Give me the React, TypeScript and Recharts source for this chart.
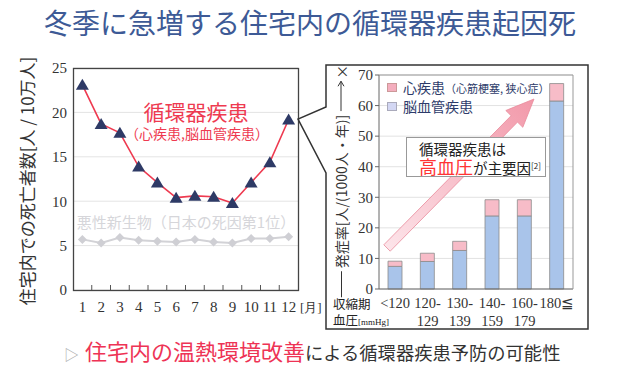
import React from 'react';
import { LineChart, Line, XAxis, YAxis, CartesianGrid, BarChart, Bar } from 'recharts';

// left chart: deaths at home per 100k people, by month
const months = [1, 2, 3, 4, 5, 6, 7, 8, 9, 10, 11, 12];
const circulatory = [23.1, 18.7, 17.7, 13.9, 12.1, 10.4, 10.6, 10.5, 9.8, 12.1, 14.4, 19.2];
const neoplasm = [5.7, 5.3, 5.9, 5.6, 5.5, 5.4, 5.7, 5.4, 5.3, 5.8, 5.8, 6.0];
const monthTicks = [1, 1.5, 2, 2.5, 3, 3.5, 4, 4.5, 5, 5.5, 6, 6.5, 7, 7.5, 8, 8.5, 9, 9.5, 10, 10.5, 11, 11.5, 12];
const leftTicks = [0, 5, 10, 15, 20, 25];

// right chart: incidence by systolic blood pressure
const bpGroups = ['<120', '120-129', '130-139', '140-159', '160-179', '180≦'];
const bpLine1 = ['<120', '120-', '130-', '140-', '160-', '180≦'];
const bpLine2 = ['', '129', '139', '159', '179', ''];
const cerebro = [7.4, 9.0, 12.6, 23.9, 23.9, 61.5];
const cardiac = [1.7, 2.7, 3.0, 5.3, 5.3, 5.7];
const rightTicks = [0, 10, 20, 30, 40, 50, 60, 70];

const lineData = months.map((m, i) => ({ month: m, circ: circulatory[i], neo: neoplasm[i] }));
const barData = bpGroups.map((g, i) => ({ g, cerebro: cerebro[i], cardiac: cardiac[i] }));

const SERIF = '"Liberation Serif", "DejaVu Serif", serif';
const JP = '"Noto Sans CJK JP", "Noto Sans", sans-serif';

const MonthTick = (props: any) => {
  const { x, y, payload } = props;
  if (Number.isInteger(payload.value)) {
    return (
      <text x={x} y={y + 22} textAnchor="middle" fontSize={15} fontFamily={SERIF} fill="#333">
        {payload.value}
      </text>
    );
  }
  return <line x1={x} x2={x} y1={y} y2={y - 5} stroke="#555" strokeWidth={1} />;
};

const BpTick = (props: any) => {
  const { x, y, payload } = props;
  const i = payload.index;
  return (
    <g>
      <text x={x} y={y + 19} textAnchor="middle" fontSize={14.5} fontFamily={SERIF} fill="#333">
        {bpLine1[i]}
      </text>
      <text x={x} y={y + 37} textAnchor="middle" fontSize={14.5} fontFamily={SERIF} fill="#333">
        {bpLine2[i]}
      </text>
    </g>
  );
};

const Triangle = (props: any) => {
  const { cx, cy, index } = props;
  if (cx == null || cy == null) return null;
  return (
    <polygon
      key={`tri-${index}`}
      points={`${cx},${cy - 6} ${cx + 6.5},${cy + 5} ${cx - 6.5},${cy + 5}`}
      fill="#2e3a66"
    />
  );
};

const Diamond = (props: any) => {
  const { cx, cy, index } = props;
  if (cx == null || cy == null) return null;
  return (
    <polygon
      key={`dia-${index}`}
      points={`${cx},${cy - 4.5} ${cx + 4.5},${cy} ${cx},${cy + 4.5} ${cx - 4.5},${cy}`}
      fill="#cfcfd4"
    />
  );
};

const abs = (style: React.CSSProperties): React.CSSProperties => ({ position: 'absolute', whiteSpace: 'nowrap', ...style });

export default function App() {
  return (
    <div style={{ position: 'absolute', left: 0, top: 0, width: 620, height: 365, background: '#fff', fontFamily: JP, overflow: 'hidden' }}>
      {/* title */}
      <div style={abs({ left: 0, width: 620, top: 7, textAlign: 'center', fontSize: 28, lineHeight: '30px', color: '#3d5a96' })}>
        冬季に急増する住宅内の循環器疾患起因死
      </div>

      {/* left line chart */}
      <div style={abs({ left: 0, top: 0 })}>
        <LineChart width={320} height={330} data={lineData} margin={{ top: 68, right: 22, bottom: 10, left: 43 }}>
          <CartesianGrid vertical={false} stroke="#e4e4e4" />
          <XAxis
            dataKey="month"
            type="number"
            domain={[0.5, 12.5]}
            ticks={monthTicks}
            interval={0}
            axisLine={false}
            tickLine={false}
            tickSize={0}
            tickMargin={0}
            height={30}
            tick={MonthTick}
          />
          <YAxis
            type="number"
            domain={[0, 25]}
            ticks={leftTicks}
            interval={0}
            width={30}
            axisLine={false}
            tickLine={false}
            tickSize={0}
            tickMargin={6}
            tick={{ fontSize: 15, fontFamily: SERIF, fill: '#333' }}
          />
          <Line dataKey="neo" stroke="#d2d2d6" strokeWidth={2} dot={Diamond} isAnimationActive={false} />
          <Line dataKey="circ" stroke="#ee3a50" strokeWidth={1.6} dot={Triangle} isAnimationActive={false} />
        </LineChart>
      </div>

      {/* right stacked bar chart */}
      <div style={abs({ left: 326, top: 65 })}>
        <BarChart width={262} height={264} data={barData} margin={{ top: 10, right: 15, bottom: 5, left: 15 }}>
          <CartesianGrid vertical={false} stroke="#e2e2e2" />
          <XAxis dataKey="g" axisLine={{ stroke: '#666' }} tickLine={false} tickSize={0} tickMargin={0} height={35} interval={0} tick={BpTick} />
          <YAxis
            type="number"
            domain={[0, 70]}
            ticks={rightTicks}
            interval={0}
            width={38}
            axisLine={{ stroke: '#666' }}
            tickLine={{ stroke: '#666' }}
            tickSize={4}
            tickMargin={2}
            tick={{ fontSize: 15, fontFamily: SERIF, fill: '#333' }}
          />
          <Bar dataKey="cerebro" stackId="a" fill="#a9c4ea" stroke="#8c8c8c" strokeWidth={0.8} barSize={14} isAnimationActive={false} />
          <Bar dataKey="cardiac" stackId="a" fill="#f7bcc8" stroke="#8c8c8c" strokeWidth={0.8} barSize={14} isAnimationActive={false} />
        </BarChart>
      </div>

      {/* frames, callout and arrow */}
      <svg width={620} height={365} style={abs({ left: 0, top: 0, pointerEvents: 'none' })}>
        <defs>
          <linearGradient id="arrowFill" x1="0" y1="1" x2="1" y2="0">
            <stop offset="0%" stopColor="#fde6eb" />
            <stop offset="100%" stopColor="#f298a9" />
          </linearGradient>
        </defs>
        <rect x={73.5} y={68.5} width={225} height={222} fill="none" stroke="#444" strokeWidth={1.3} />
        <polyline points="379,75 573,75 573,289" fill="none" stroke="#999" strokeWidth={1} />
        <path d="M326,107 L326,65 L588,65 L588,329 L326,329 L326,173 L298,119 Z" fill="none" stroke="#333" strokeWidth={1.5} />
        <polygon
          points="390.2,251.2 517.5,122.1 522.8,127.3 534,99 505.8,110.5 511.1,115.7 383.8,244.8"
          fill="url(#arrowFill)"
          stroke="#e98c9c"
          strokeWidth={0.8}
        />
      </svg>

      {/* left chart texts */}
      <div style={abs({ left: 27, top: 181, transform: 'translate(-50%, -50%) rotate(-90deg)', fontSize: 17, lineHeight: '20px', color: '#333' })}>
        住宅内での死亡者数[人 / 10万人]
      </div>
      <div style={abs({ left: 196, top: 111, transform: 'translate(-50%, -50%)', fontSize: 21, lineHeight: '24px', color: '#ee3a50' })}>循環器疾患</div>
      <div style={abs({ left: 197, top: 133, transform: 'translate(-50%, -50%)', fontSize: 14, lineHeight: '16px', color: '#ee3a50' })}>（心疾患,脳血管疾患）</div>
      <div style={abs({ left: 186, top: 222, transform: 'translate(-50%, -50%)', fontSize: 15, lineHeight: '18px', color: '#d6d6da' })}>悪性新生物（日本の死因第1位）</div>
      <div style={abs({ left: 300, top: 307, transform: 'translateY(-50%)', fontSize: 13, lineHeight: '15px', color: '#333', fontFamily: SERIF })}>[月]</div>

      {/* right chart texts */}
      <div
        style={abs({
          left: 341,
          top: 181,
          transform: 'translate(-50%, -50%) rotate(-90deg)',
          fontSize: 14,
          lineHeight: '16px',
          color: '#333',
          display: 'flex',
          alignItems: 'center',
        })}
      >
        <span style={{ display: 'inline-block', width: 26, height: 1, background: '#333', marginRight: 3 }} />
        <span>発症率[人/(1000人・年)]</span>
        <svg width={32} height={10} style={{ marginLeft: 3 }}>
          <line x1={0} y1={5} x2={30} y2={5} stroke="#333" strokeWidth={1} />
          <polyline points="25,2 30,5 25,8" fill="none" stroke="#333" strokeWidth={1} />
        </svg>
        <span style={{ marginLeft: 1 }}>×</span>
      </div>

      <div style={abs({ left: 387, top: 83, width: 8, height: 7, background: '#f4aebe', border: '1px solid #c99' })} />
      <div style={abs({ left: 403, top: 87, transform: 'translateY(-50%)', fontSize: 14, lineHeight: '16px', color: '#2d3b6a' })}>
        心疾患<span style={{ fontSize: 11 }}>（心筋梗塞, 狭心症）</span>
      </div>
      <div style={abs({ left: 387, top: 102, width: 8, height: 7, background: '#d3d7f3', border: '1px solid #aab' })} />
      <div style={abs({ left: 403, top: 106, transform: 'translateY(-50%)', fontSize: 14, lineHeight: '16px', color: '#2d3b6a' })}>脳血管疾患</div>

      <div style={abs({ left: 406, top: 137, width: 140, height: 40, boxSizing: 'border-box', background: '#fff', border: '1px solid #999', paddingLeft: 12, color: '#222' })}>
        <div style={{ fontSize: 14.5, lineHeight: '17px', marginTop: 2 }}>循環器疾患は</div>
        <div style={{ fontSize: 14.5, lineHeight: '19px' }}>
          <span style={{ fontSize: 18, color: '#ff3434' }}>高血圧</span>が主要因
          <span style={{ fontSize: 8, verticalAlign: 'top', position: 'relative', top: -1 }}>[2]</span>
        </div>
      </div>

      <div style={abs({ left: 333, top: 304, transform: 'translateY(-50%)', fontSize: 12.5, lineHeight: '14px', color: '#222' })}>収縮期</div>
      <div style={abs({ left: 333, top: 321, transform: 'translateY(-50%)', fontSize: 12.5, lineHeight: '14px', color: '#222' })}>
        血圧<span style={{ fontSize: 9, fontFamily: SERIF }}>[mmHg]</span>
      </div>

      {/* bottom message */}
      <div style={abs({ left: 64, top: 352, transform: 'translateY(-50%)', display: 'flex', alignItems: 'baseline', lineHeight: '24px' })}>
        <span style={{ fontSize: 15, color: '#aaa', marginRight: 6 }}>▷</span>
        <span style={{ fontSize: 22, color: '#ee3355' }}>住宅内の温熱環境改善</span>
        <span style={{ fontSize: 18.3, color: '#333' }}>による循環器疾患予防の可能性</span>
      </div>
    </div>
  );
}
